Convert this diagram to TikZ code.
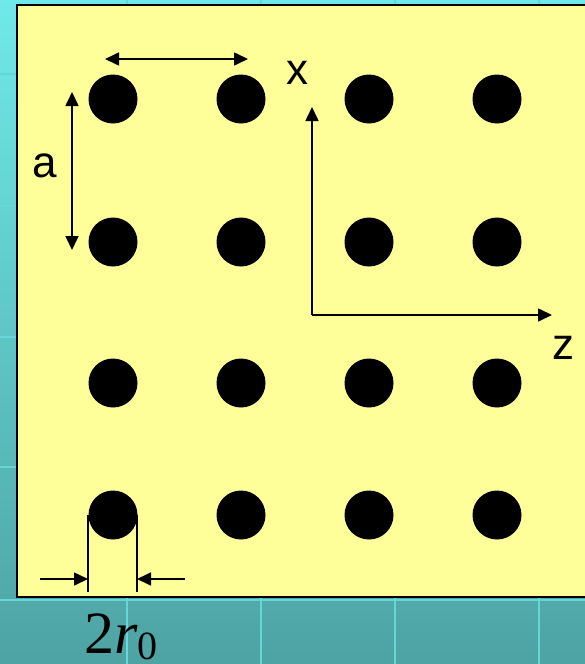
\documentclass[tikz,border=0pt]{standalone}
\usepackage{fontspec}
\setmainfont{Liberation Sans}
\newfontfamily\serifrm{Liberation Serif}
\usetikzlibrary{arrows.meta}
\definecolor{bgtop}{HTML}{6FE9E9}
\definecolor{bgbot}{HTML}{4EA3A3}
\definecolor{gridc}{HTML}{66D6D6}
\definecolor{paper}{HTML}{FFFF99}
\tikzset{
  dot/.style={circle,fill=black,draw=none,minimum size=49pt,inner sep=0pt},
  dimarrow/.style={line width=1.6pt,-{Triangle[length=14pt,width=13pt]}},
  dimline/.style={line width=1.6pt},
  lbl/.style={font=\fontsize{44}{44}\selectfont,inner sep=0pt}
}
\begin{document}
\begin{tikzpicture}[x=1pt,y=-1pt]
\useasboundingbox (0,0) rectangle (585,664);
% background
\shade[top color=bgtop,bottom color=bgbot] (0,0) rectangle (585,664);
\foreach \yy in {74,206,337,467,600}
  \draw[gridc,line width=2pt] (0,\yy) -- (585,\yy);
\foreach \xx in {127,261,395,539}
  \draw[gridc,line width=2pt] (\xx,0) -- (\xx,664);
% yellow panel
\begin{scope}
\clip (0,0) rectangle (585,664);
\draw[fill=paper,draw=black,line width=1.8pt] (17,5) rectangle (595,597);
\end{scope}
% dots
\foreach \c/\xx in {1/113,2/241,3/369,4/497}
  \foreach \r/\yy in {1/99,2/242,3/383,4/515}
    \node[dot] (d\r\c) at (\xx,\yy) {};
% horizontal spacing arrow
\coordinate (hl) at (105,59);
\coordinate (hr) at (248,59);
\draw[dimline,{Triangle[length=14pt,width=13pt]}-{Triangle[length=14pt,width=13pt]}] (hl) -- (hr);
% vertical spacing arrow a
\coordinate (vt) at (72,92);
\coordinate (vb) at (72,250);
\draw[dimline,{Triangle[length=14pt,width=13pt]}-{Triangle[length=14pt,width=13pt]}] (vb) -- (vt);
\node[lbl] (la) at (45,166) {a};
% axes
\coordinate (o) at (312,315);
\coordinate (xt) at (312,107);
\coordinate (zt) at (552,315);
\draw[dimarrow] (o) -- (xt);
\draw[dimarrow] (o) -- (zt);
\node[lbl] (lx) at (297,73) {x};
\node[lbl] (lz) at (563,348) {z};
% 2r0 dimension
\coordinate (w1t) at (88,515);
\coordinate (w1b) at (88,592);
\coordinate (w2t) at (137,515);
\coordinate (w2b) at (137,592);
\draw[dimline] (w1t) -- (w1b);
\draw[dimline] (w2t) -- (w2b);
\coordinate (al) at (40,579);
\coordinate (ar) at (185,579);
\draw[dimarrow] (al) -- (88,579);
\draw[dimarrow] (ar) -- (137,579);
\node[inner sep=0pt,anchor=base west] (lr) at (84,653) {\serifrm\fontsize{60}{60}\selectfont 2\textit{r}\raisebox{-0.11em}{\fontsize{40}{40}\selectfont 0}};
\end{tikzpicture}
\end{document}
